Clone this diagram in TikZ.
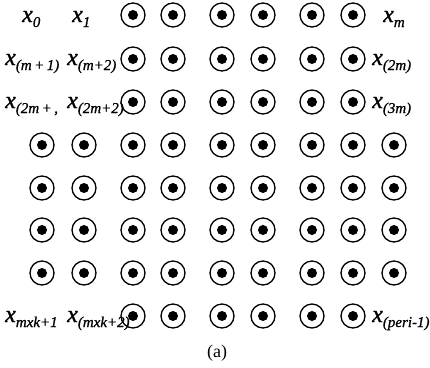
\documentclass[tikz,border=0pt]{standalone}
\usepackage{fontspec}
\setmainfont{Liberation Serif}[ItalicFeatures={FakeBold=1}]
\newcommand{\xl}[1]{{\fontsize{24}{24}\selectfont\itshape x}\raisebox{-5pt}{\fontsize{15}{15}\selectfont\itshape #1}}
\tikzset{
  ring/.style={circle, draw, line width=1.3pt, minimum size=24pt, inner sep=0pt,
    path picture={\fill (path picture bounding box.center) circle (5pt);}},
  lab/.style={anchor=base west, inner sep=0pt},
}
\begin{document}
\begin{tikzpicture}[x=1pt,y=-1pt]
\useasboundingbox (0,0) rectangle (430,367);
% rows 1-3 and 8: columns 3..8
\foreach \r/\y in {1/15,2/59,3/102,8/316}{
  \foreach \c/\x in {3/133,4/173,5/222,6/263,7/312,8/353}{
    \node[ring] (c\r-\c) at (\x,\y) {};
  }
}
% rows 4-7: all columns
\foreach \r/\y in {4/145,5/188,6/230,7/273}{
  \foreach \c/\x in {1/42,2/84,3/133,4/173,5/222,6/263,7/312,8/353,9/394}{
    \node[ring] (c\r-\c) at (\x,\y) {};
  }
}
% labels
\node[lab] (l10) at (22,22) {\xl{0}};
\node[lab] (l11) at (72,22) {\xl{1}};
\node[lab] (l1m) at (383,22) {\xl{m}};
\node[lab] (l20) at (5,65) {\xl{(m\,+\,1)}};
\node[lab] (l21) at (67,65) {\xl{(m+2)}};
\node[lab] (l2m) at (372,65) {\xl{(2m)}};
\node[lab] (l30) at (5,108) {\xl{(2m\,+\,,}};
\node[lab] (l31) at (67,108) {\xl{(2m+2)}};
\node[lab] (l3m) at (372,108) {\xl{(3m)}};
\node[lab] (l80) at (5,322) {\xl{mxk+1}};
\node[lab] (l81) at (67,322) {\xl{(mxk+2)}};
\node[lab] (l8m) at (372,322) {\xl{(peri-1)}};
\node[anchor=center, inner sep=0pt] (cap) at (217,353) {\fontsize{18}{18}\selectfont (a)};
\end{tikzpicture}
\end{document}
